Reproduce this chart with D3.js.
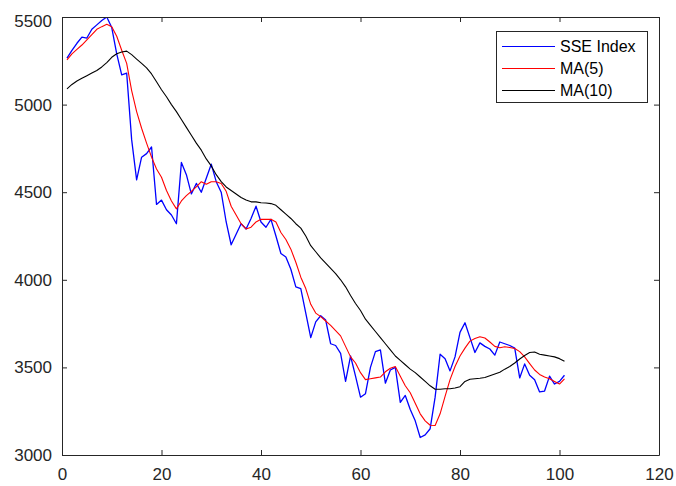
<!DOCTYPE html>
<html>
<head>
<meta charset="utf-8">
<script src="https://cdn.jsdelivr.net/npm/d3@7"></script>
<style>
  html, body { margin: 0; padding: 0; background: #fff; }
  svg { display: block; }
</style>
</head>
<body>
<svg id="chart" width="676" height="486"></svg>
<script>
const seriesNames = ["SSE Index", "MA(5)", "MA(10)"];
const seriesColors = ["#0000ff", "#ff0000", "#000000"];

const sse = [5265,5310,5350,5385,5380,5430,5455,5480,5500,5440,
  5290,5170,5180,4800,4570,4700,4720,4758,4430,4455,
  4400,4370,4320,4670,4600,4490,4550,4500,4580,4660,
  4560,4500,4330,4200,4260,4320,4290,4350,4420,4330,
  4300,4345,4250,4150,4130,4060,3960,3950,3810,3670,
  3760,3795,3770,3635,3625,3580,3420,3565,3450,3330,
  3350,3500,3590,3600,3410,3485,3500,3300,3340,3260,
  3195,3100,3115,3150,3330,3575,3550,3480,3560,3700,
  3755,3670,3585,3640,3620,3605,3570,3645,3635,3625,
  3610,3440,3520,3455,3430,3360,3365,3450,3405,3420,3455];

const ma5 = [5255,5290,5315,5340,5370,5400,5430,5445,5458,5445,
  5390,5310,5235,5080,4960,4865,4780,4700,4632,4585,
  4510,4450,4405,4450,4480,4505,4530,4560,4545,4560,
  4560,4550,4505,4420,4370,4320,4290,4300,4330,4345,
  4345,4345,4330,4270,4230,4175,4100,4015,3950,3860,
  3810,3790,3765,3740,3710,3680,3620,3560,3525,3470,
  3430,3435,3440,3445,3475,3495,3505,3450,3395,3355,
  3295,3235,3195,3170,3168,3235,3335,3430,3505,3565,
  3610,3650,3665,3675,3668,3645,3620,3612,3618,3614,
  3608,3590,3560,3522,3485,3460,3445,3435,3420,3405,3435];

const ma10 = [5090,5115,5135,5150,5165,5180,5195,5215,5240,5270,
  5290,5300,5305,5285,5260,5235,5210,5175,5130,5085,
  5045,5000,4960,4915,4870,4825,4780,4740,4690,4650,
  4600,4560,4530,4510,4490,4470,4455,4445,4445,4440,
  4438,4435,4425,4400,4375,4350,4320,4295,4250,4195,
  4160,4125,4095,4065,4035,4000,3960,3910,3865,3825,
  3775,3740,3705,3670,3635,3600,3565,3540,3515,3490,
  3470,3445,3420,3395,3375,3375,3378,3378,3382,3390,
  3420,3432,3435,3438,3442,3452,3462,3472,3490,3505,
  3525,3548,3568,3585,3588,3575,3570,3565,3560,3550,3535];

const xTicks = [0, 20, 40, 60, 80, 100, 120];
const yTicks = [3000, 3500, 4000, 4500, 5000, 5500];

const svg = d3.select("#chart");
const m = {left: 62, right: 659, top: 17, bottom: 455};
const axisColor = "#262626";

const x = d3.scaleLinear().domain([0, 120]).range([m.left, m.right]);
const y = d3.scaleLinear().domain([3000, 5500]).range([m.bottom, m.top]);

const allSeries = [sse, ma5, ma10];
const line = d3.line()
  .x((d, i) => x(i + 1))
  .y(d => y(d));

svg.append("defs").append("clipPath").attr("id", "clip")
  .append("rect").attr("x", m.left).attr("y", m.top)
  .attr("width", m.right - m.left).attr("height", m.bottom - m.top);

const plotG = svg.append("g").attr("clip-path", "url(#clip)");
allSeries.forEach((s, k) => {
  plotG.append("path")
    .datum(s)
    .attr("d", line)
    .attr("fill", "none")
    .attr("stroke", seriesColors[k])
    .attr("stroke-width", k === 0 ? 1.3 : 1.1)
    .attr("stroke-linejoin", "round");
});

const fontFam = "Liberation Sans, Arial, Helvetica, sans-serif";

const tickLen = 5;
const fmt = d3.format("d");
const bottomAxis = d3.axisBottom(x).tickValues(xTicks).tickFormat(fmt).tickSizeInner(-tickLen).tickSizeOuter(0).tickPadding(13);
const topAxis = d3.axisTop(x).tickValues(xTicks).tickSizeInner(-tickLen).tickSizeOuter(0).tickFormat("");
const leftAxis = d3.axisLeft(y).tickValues(yTicks).tickFormat(fmt).tickSizeInner(-tickLen).tickSizeOuter(0).tickPadding(10);
const rightAxis = d3.axisRight(y).tickValues(yTicks).tickSizeInner(-tickLen).tickSizeOuter(0).tickFormat("");

function style(g) {
  g.selectAll("path.domain").attr("stroke", axisColor).attr("stroke-width", 1);
  g.selectAll(".tick line").attr("stroke", axisColor).attr("stroke-width", 1);
  g.selectAll(".tick text").attr("fill", axisColor)
    .style("font-family", fontFam).style("font-size", "17px");
}

svg.append("g").attr("transform", `translate(0,${m.bottom})`).call(bottomAxis).call(style);
svg.append("g").attr("transform", `translate(0,${m.top})`).call(topAxis).call(style);
const leftG = svg.append("g").attr("transform", `translate(${m.left},0)`).call(leftAxis).call(style);
leftG.selectAll(".tick text").filter(d => d === 5500).attr("y", 4);
svg.append("g").attr("transform", `translate(${m.right},0)`).call(rightAxis).call(style);

// legend
const lg = svg.append("g");
const lx = 496, ly = 31, lw = 151, lh = 71;
lg.append("rect").attr("x", lx + 0.5).attr("y", ly + 0.5).attr("width", lw).attr("height", lh)
  .attr("fill", "#fff").attr("stroke", axisColor).attr("stroke-width", 1);
seriesNames.forEach((name, k) => {
  const yy = ly + 15.5 + k * 22;
  lg.append("line").attr("x1", lx + 6).attr("x2", lx + 59)
    .attr("y1", yy).attr("y2", yy)
    .attr("stroke", seriesColors[k]).attr("stroke-width", 1.1);
  lg.append("text").attr("x", lx + 64).attr("y", yy)
    .attr("dy", "0.35em")
    .style("font-family", fontFam).style("font-size", "16px")
    .attr("fill", "#000")
    .text(name);
});
</script>
</body>
</html>
